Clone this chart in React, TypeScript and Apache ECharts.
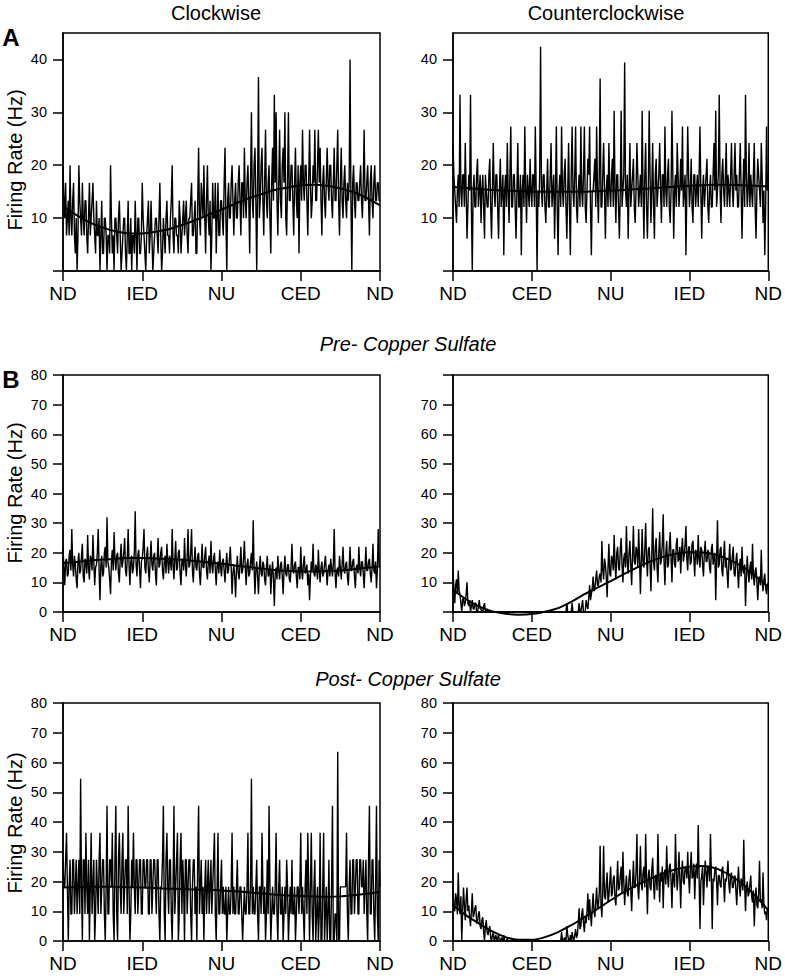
import React, { useEffect, useRef } from "react";
import * as echarts from "echarts";

// angular step between samples (degrees) and between fit samples
const STEP = 1;
const FIT_STEP = 15;

const cwLabels = ["ND", "IED", "NU", "CED", "ND"];
const ccwLabels = ["ND", "CED", "NU", "IED", "ND"];
const yTicksA = [0, 10, 20, 30, 40];
const yLabelsA = [10, 20, 30, 40];
const yTicksB = [0, 10, 20, 30, 40, 50, 60, 70, 80];
const yLabelsBRight = [10, 20, 30, 40, 50, 60, 70];

// Panel A, clockwise (one value per degree, 0..360)
const aCw = [
  20, 13.3, 10, 16.7, 6.7, 10, 13.3, 6.7, 20, 10, 6.7, 13.3, 16.7, 6.7, 3.3, 10, 0, 6.7, 20, 13.3,
  10, 6.7, 16.7, 10, 6.7, 13.3, 13.3, 6.7, 3.3, 10, 16.7, 6.7, 10, 13.3, 16.7, 10, 6.7, 3.3, 13.3, 6.7,
  6.7, 10, 0, 6.7, 13.3, 3.3, 3.3, 10, 10, 6.7, 0, 6.7, 6.7, 3.3, 20, 10, 3.3, 6.7, 0, 10,
  10, 6.7, 3.3, 10, 13.3, 6.7, 0, 3.3, 6.7, 10, 10, 3.3, 0, 6.7, 13.3, 3.3, 3.3, 10, 0, 6.7,
  6.7, 3.3, 13.3, 6.7, 0, 10, 10, 3.3, 3.3, 6.7, 16.7, 10, 6.7, 3.3, 0, 6.7, 10, 13.3, 3.3, 6.7,
  13.3, 6.7, 0, 3.3, 6.7, 10, 10, 6.7, 3.3, 10, 16.7, 6.7, 0, 3.3, 10, 6.7, 3.3, 10, 13.3, 6.7,
  6.7, 3.3, 10, 13.3, 20, 6.7, 3.3, 10, 10, 6.7, 6.7, 3.3, 13.3, 10, 3.3, 6.7, 10, 13.3, 6.7, 10,
  13.3, 6.7, 3.3, 10, 10, 13.3, 16.7, 6.7, 6.7, 10, 13.3, 3.3, 3.3, 13.3, 23.3, 10, 6.7, 16.7, 13.3, 10,
  20, 10, 3.3, 13.3, 20, 10, 6.7, 13.3, 0, 6.7, 16.7, 10, 10, 16.7, 3.3, 10, 16.7, 6.7, 6.7, 13.3,
  13.3, 10, 6.7, 16.7, 23.3, 10, 0, 13.3, 16.7, 10, 10, 16.7, 20, 13.3, 6.7, 13.3, 16.7, 10, 10, 16.7,
  20, 13.3, 6.7, 16.7, 16.7, 10, 23.3, 13.3, 10, 16.7, 20, 13.3, 3.3, 16.7, 30, 13.3, 10, 20, 23.3, 13.3,
  0, 16.7, 36.7, 10, 13.3, 20, 23.3, 13.3, 6.7, 16.7, 26.7, 13.3, 10, 16.7, 20, 10, 3.3, 16.7, 23.3, 13.3,
  33.3, 16.7, 30, 13.3, 6.7, 16.7, 26.7, 13.3, 10, 20, 23.3, 16.7, 30, 10, 6.7, 16.7, 30, 13.3, 13.3, 20,
  20, 13.3, 6.7, 16.7, 23.3, 13.3, 10, 20, 3.3, 16.7, 20, 13.3, 26.7, 16.7, 13.3, 20, 20, 13.3, 6.7, 16.7,
  26.7, 16.7, 10, 13.3, 20, 16.7, 26.7, 13.3, 13.3, 20, 26.7, 16.7, 23.3, 13.3, 6.7, 16.7, 20, 13.3, 10, 16.7,
  23.3, 16.7, 13.3, 20, 20, 13.3, 10, 16.7, 23.3, 13.3, 13.3, 20, 26.7, 13.3, 6.7, 16.7, 23.3, 13.3, 10, 16.7,
  20, 13.3, 10, 16.7, 13.3, 16.7, 40, 13.3, 0, 16.7, 20, 13.3, 10, 16.7, 16.7, 13.3, 13.3, 16.7, 20, 13.3,
  10, 16.7, 26.7, 13.3, 13.3, 16.7, 20, 13.3, 6.7, 16.7, 20, 13.3, 10, 16.7, 20, 13.3, 13.3, 16.7, 16.7, 13.3,
  13.3,
];
const aCwFit = [
  12.3, 10.6, 9.2, 8.2, 7.5, 7.1, 7.1, 7.4, 7.9, 8.7, 9.6, 10.6, 11.6,
  12.7, 13.7, 14.5, 15.3, 15.8, 16.2, 16.3, 16.1, 15.6, 14.9, 13.8, 12.4,
];

// Panel A, counterclockwise
const aCcw = [
  24.2, 18.2, 15.2, 12.1, 9.1, 15.2, 18.2, 12.1, 33.3, 15.2, 12.1, 18.2, 18.2, 12.1, 24.2, 15.2, 6.1, 12.1, 18.2, 15.2,
  33.3, 12.1, 0, 15.2, 18.2, 12.1, 12.1, 18.2, 21.2, 12.1, 15.2, 18.2, 9.1, 15.2, 18.2, 12.1, 6.1, 18.2, 15.2, 12.1,
  12.1, 18.2, 21.2, 12.1, 6.1, 15.2, 24.2, 15.2, 12.1, 18.2, 18.2, 12.1, 6.1, 15.2, 21.2, 12.1, 15.2, 18.2, 3, 15.2,
  18.2, 12.1, 24.2, 15.2, 9.1, 18.2, 27.3, 12.1, 12.1, 18.2, 18.2, 12.1, 6.1, 15.2, 24.2, 12.1, 12.1, 18.2, 3, 15.2,
  18.2, 12.1, 27.3, 15.2, 9.1, 18.2, 15.2, 12.1, 21.2, 15.2, 12.1, 18.2, 18.2, 12.1, 27.3, 15.2, 0, 15.2, 12.1, 18.2,
  42.4, 15.2, 12.1, 18.2, 18.2, 12.1, 9.1, 15.2, 21.2, 12.1, 12.1, 18.2, 24.2, 12.1, 15.2, 18.2, 6.1, 15.2, 27.3, 12.1,
  3, 15.2, 18.2, 12.1, 27.3, 15.2, 12.1, 18.2, 21.2, 12.1, 6.1, 15.2, 24.2, 12.1, 3, 18.2, 27.3, 15.2, 12.1, 18.2,
  27.3, 12.1, 9.1, 15.2, 18.2, 12.1, 27.3, 15.2, 12.1, 18.2, 27.3, 12.1, 9.1, 15.2, 21.2, 18.2, 27.3, 12.1, 3, 15.2,
  15.2, 18.2, 21.2, 12.1, 27.3, 15.2, 9.1, 18.2, 36.4, 12.1, 12.1, 18.2, 24.2, 15.2, 6.1, 15.2, 18.2, 12.1, 24.2, 15.2,
  12.1, 18.2, 21.2, 12.1, 30.3, 15.2, 9.1, 18.2, 18.2, 12.1, 6.1, 15.2, 30.3, 12.1, 15.2, 18.2, 39.4, 15.2, 12.1, 18.2,
  6.1, 15.2, 24.2, 12.1, 15.2, 18.2, 21.2, 12.1, 9.1, 15.2, 24.2, 18.2, 12.1, 15.2, 18.2, 12.1, 30.3, 15.2, 6.1, 18.2,
  24.2, 12.1, 6.1, 15.2, 30.3, 18.2, 9.1, 15.2, 24.2, 12.1, 6.1, 18.2, 21.2, 12.1, 15.2, 18.2, 24.2, 15.2, 9.1, 18.2,
  18.2, 12.1, 27.3, 15.2, 12.1, 18.2, 21.2, 12.1, 9.1, 15.2, 30.3, 18.2, 6.1, 15.2, 18.2, 12.1, 24.2, 18.2, 12.1, 15.2,
  21.2, 15.2, 27.3, 12.1, 15.2, 18.2, 3, 15.2, 27.3, 18.2, 12.1, 15.2, 21.2, 12.1, 9.1, 18.2, 18.2, 12.1, 15.2, 18.2,
  12.1, 18.2, 27.3, 15.2, 6.1, 15.2, 18.2, 12.1, 15.2, 18.2, 21.2, 12.1, 9.1, 15.2, 18.2, 12.1, 12.1, 18.2, 24.2, 15.2,
  30.3, 12.1, 15.2, 18.2, 33.3, 15.2, 9.1, 18.2, 21.2, 15.2, 12.1, 18.2, 24.2, 12.1, 18.2, 15.2, 12.1, 18.2, 24.2, 15.2,
  12.1, 18.2, 24.2, 15.2, 18.2, 12.1, 12.1, 18.2, 24.2, 15.2, 6.1, 15.2, 21.2, 12.1, 33.3, 18.2, 12.1, 15.2, 24.2, 12.1,
  18.2, 15.2, 12.1, 18.2, 24.2, 12.1, 6.1, 15.2, 21.2, 18.2, 15.2, 12.1, 24.2, 18.2, 9.1, 15.2, 3, 12.1, 27.3, 15.2,
  18.2,
];
const aCcwFit = [
  15.9, 15.7, 15.5, 15.3, 15.2, 15.1, 15.0, 15.0, 15.0, 15.0, 15.0, 15.1, 15.2,
  15.3, 15.5, 15.6, 15.8, 16.0, 16.1, 16.2, 16.3, 16.3, 16.2, 16.1, 16.0,
];

// Panel B, pre copper sulfate, clockwise
const preCw = [
  22, 15, 9, 17, 18, 12, 13, 19, 21, 14, 28, 16, 12, 19, 16, 11, 8, 17, 20, 13,
  14, 19, 23, 12, 10, 18, 17, 13, 26, 15, 11, 19, 18, 14, 26, 17, 9, 15, 16, 20,
  28, 14, 4, 16, 19, 12, 13, 20, 22, 15, 32, 17, 15, 11, 6, 17, 21, 14, 27, 18,
  14, 19, 20, 13, 10, 18, 23, 15, 17, 20, 25, 14, 12, 18, 28, 16, 9, 17, 19, 13,
  15, 20, 34, 16, 12, 19, 21, 14, 8, 17, 18, 22, 28, 15, 13, 19, 22, 14, 10, 18,
  24, 16, 14, 19, 20, 13, 9, 18, 25, 15, 16, 20, 22, 14, 11, 17, 19, 13, 23, 17,
  13, 19, 17, 14, 28, 16, 11, 18, 24, 14, 15, 20, 21, 13, 9, 17, 18, 14, 25, 16,
  12, 18, 28, 15, 16, 20, 28, 14, 10, 17, 22, 15, 14, 19, 20, 13, 9, 16, 23, 15,
  15, 19, 22, 14, 11, 17, 19, 13, 24, 16, 13, 18, 20, 14, 9, 16, 17, 13, 21, 15,
  12, 17, 18, 14, 10, 16, 20, 13, 14, 18, 22, 15, 6, 13, 16, 12, 5, 14, 19, 13,
  11, 16, 22, 13, 14, 18, 24, 15, 9, 16, 18, 12, 13, 17, 20, 14, 31, 15, 6, 14,
  17, 12, 6, 15, 19, 13, 12, 17, 16, 11, 9, 15, 19, 12, 13, 16, 6, 13, 17, 11,
  2, 13, 15, 11, 19, 14, 11, 16, 17, 12, 6, 14, 19, 13, 12, 16, 16, 11, 10, 15,
  23, 14, 13, 16, 17, 12, 8, 15, 15, 11, 22, 14, 11, 16, 19, 13, 14, 16, 9, 13,
  4, 12, 17, 14, 23, 13, 12, 16, 15, 11, 21, 14, 10, 15, 17, 12, 13, 16, 19, 14,
  9, 14, 16, 12, 18, 15, 12, 16, 28, 13, 8, 14, 15, 12, 19, 15, 11, 16, 22, 14,
  13, 16, 17, 12, 9, 15, 22, 14, 14, 17, 18, 12, 8, 15, 16, 13, 22, 15, 12, 17,
  17, 13, 8, 15, 22, 14, 14, 17, 18, 13, 10, 15, 23, 14, 13, 17, 8, 14, 28, 16,
  15,
];
const preCwFit = [
  16.5, 16.9, 17.3, 17.7, 18.0, 18.2, 18.2, 18.1, 17.9, 17.6, 17.2, 16.8, 16.3,
  15.7, 15.2, 14.7, 14.2, 13.9, 13.7, 13.7, 13.8, 14.0, 14.4, 14.9, 15.4,
];

// Panel B, pre copper sulfate, counterclockwise
const preCcw = [
  14, 8, 3, 9, 11, 6, 14, 7, 6, 3, 0, 4, 5, 2, 3, 6, 10, 3, 2, 4,
  0, 2, 4, 1, 1, 3, 3, 0, 0, 2, 4, 1, 1, 0, 0, 2, 3, 0, 0, 1,
  0, 0, 0, 0, 0, 0, 0, 0, 0, 0, 0, 0, 0, 0, 0, 0, 0, 0, 0, 0,
  0, 0, 0, 0, 0, 0, 0, 0, 0, 0, 0, 0, 0, 0, 0, 0, 0, 0, 0, 0,
  0, 0, 0, 0, 0, 0, 0, 0, 0, 0, 0, 0, 0, 0, 0, 0, 0, 0, 0, 0,
  0, 0, 0, 0, 0, 0, 0, 0, 0, 0, 0, 0, 0, 0, 0, 0, 0, 0, 0, 0,
  0, 0, 0, 0, 0, 0, 0, 0, 0, 0, 3, 0, 0, 0, 0, 0, 3, 0, 0, 0,
  0, 0, 0, 0, 3, 0, 0, 2, 4, 0, 0, 0, 4, 2, 1, 5, 9, 4, 6, 8,
  12, 7, 8, 11, 14, 9, 9, 12, 13, 10, 24, 14, 11, 18, 16, 12, 5, 15, 23, 13,
  12, 19, 18, 14, 26, 16, 11, 20, 22, 15, 14, 21, 25, 16, 10, 18, 20, 15, 29, 17,
  13, 20, 24, 16, 9, 19, 29, 17, 16, 22, 21, 15, 28, 18, 6, 17, 28, 16, 15, 21,
  30, 18, 12, 21, 22, 16, 7, 19, 35, 17, 14, 22, 25, 15, 10, 20, 27, 16, 18, 23,
  33, 17, 9, 20, 24, 15, 16, 22, 27, 18, 10, 21, 21, 16, 15, 23, 25, 17, 18, 22,
  13, 21, 25, 17, 19, 23, 29, 18, 14, 22, 22, 16, 17, 23, 24, 18, 12, 21, 20, 16,
  26, 18, 15, 22, 21, 16, 12, 20, 24, 17, 17, 21, 20, 15, 13, 21, 23, 16, 18, 20,
  4, 18, 31, 15, 16, 21, 22, 14, 12, 19, 24, 15, 18, 13, 8, 17, 23, 14, 15, 19,
  22, 13, 12, 17, 20, 14, 8, 15, 18, 12, 22, 14, 13, 16, 2, 12, 19, 13, 10, 15,
  17, 11, 23, 12, 9, 14, 15, 10, 4, 11, 12, 9, 21, 10, 7, 11, 13, 8, 6, 9,
  10,
];
const preCcwFit = [
  7.5, 4.3, 1.8, 0.2, -0.6, -0.9, -0.7, 0.1, 1.3, 3.4, 6.0, 8.2, 10.4,
  12.8, 15.0, 17.0, 18.6, 19.7, 20.2, 20.1, 19.3, 17.7, 15.4, 12.2, 8.4,
];

// Panel B, post copper sulfate, clockwise
const postCw = [
  27.3, 18.2, 18.2, 27.3, 36.4, 18.2, 0, 18.2, 27.3, 9.1, 9.1, 27.3, 27.3, 9.1, 18.2, 27.3, 9.1, 18.2, 27.3, 9.1,
  54.5, 18.2, 0, 27.3, 27.3, 9.1, 36.4, 18.2, 9.1, 27.3, 0, 18.2, 36.4, 9.1, 18.2, 27.3, 0, 9.1, 27.3, 18.2,
  9.1, 27.3, 36.4, 9.1, 18.2, 27.3, 27.3, 9.1, 0, 18.2, 45.5, 9.1, 9.1, 27.3, 27.3, 18.2, 36.4, 9.1, 0, 27.3,
  45.5, 9.1, 0, 27.3, 36.4, 18.2, 9.1, 27.3, 36.4, 9.1, 18.2, 27.3, 27.3, 9.1, 45.5, 18.2, 0, 9.1, 27.3, 18.2,
  36.4, 18.2, 9.1, 27.3, 27.3, 9.1, 18.2, 27.3, 27.3, 9.1, 9.1, 27.3, 27.3, 18.2, 18.2, 27.3, 27.3, 9.1, 9.1, 27.3,
  27.3, 9.1, 18.2, 27.3, 27.3, 18.2, 9.1, 27.3, 27.3, 9.1, 0, 18.2, 18.2, 27.3, 45.5, 9.1, 0, 27.3, 36.4, 18.2,
  9.1, 27.3, 27.3, 9.1, 0, 18.2, 45.5, 9.1, 18.2, 27.3, 36.4, 0, 9.1, 27.3, 36.4, 9.1, 27.3, 18.2, 0, 27.3,
  27.3, 9.1, 18.2, 27.3, 27.3, 9.1, 0, 18.2, 27.3, 27.3, 9.1, 18.2, 0, 27.3, 45.5, 9.1, 18.2, 27.3, 9.1, 18.2,
  0, 18.2, 27.3, 9.1, 18.2, 27.3, 9.1, 18.2, 27.3, 9.1, 18.2, 27.3, 36.4, 9.1, 0, 18.2, 36.4, 9.1, 9.1, 18.2,
  27.3, 9.1, 18.2, 9.1, 9.1, 18.2, 0, 9.1, 18.2, 9.1, 9.1, 18.2, 36.4, 9.1, 18.2, 9.1, 9.1, 18.2, 27.3, 9.1,
  9.1, 18.2, 18.2, 9.1, 0, 9.1, 18.2, 9.1, 9.1, 18.2, 36.4, 9.1, 9.1, 18.2, 54.5, 9.1, 18.2, 9.1, 9.1, 18.2,
  27.3, 9.1, 0, 18.2, 18.2, 9.1, 36.4, 18.2, 9.1, 18.2, 0, 9.1, 27.3, 9.1, 45.5, 18.2, 0, 9.1, 18.2, 9.1,
  9.1, 18.2, 36.4, 9.1, 0, 18.2, 27.3, 9.1, 9.1, 18.2, 0, 9.1, 18.2, 9.1, 27.3, 18.2, 0, 9.1, 18.2, 9.1,
  27.3, 9.1, 9.1, 18.2, 0, 9.1, 18.2, 18.2, 9.1, 18.2, 36.4, 9.1, 18.2, 9.1, 0, 18.2, 27.3, 9.1, 36.4, 18.2,
  0, 18.2, 36.4, 9.1, 0, 18.2, 27.3, 0, 9.1, 18.2, 0, 9.1, 36.4, 0, 0, 18.2, 36.4, 0, 9.1, 18.2,
  0, 9.1, 27.3, 0, 0, 18.2, 45.5, 0, 0, 9.1, 9.1, 0, 63.6, 0, 0, 18.2, 18.2, 18.2, 18.2, 18.2,
  18.2, 18.2, 36.4, 9.1, 0, 18.2, 27.3, 9.1, 9.1, 27.3, 27.3, 9.1, 18.2, 27.3, 27.3, 9.1, 9.1, 27.3, 27.3, 18.2,
  18.2, 27.3, 9.1, 18.2, 27.3, 9.1, 0, 27.3, 45.5, 9.1, 9.1, 27.3, 27.3, 9.1, 0, 18.2, 45.5, 9.1, 0, 27.3,
  18.2,
];
const postCwFit = [
  18.0, 18.1, 18.2, 18.2, 18.2, 18.1, 18.0, 17.8, 17.6, 17.5, 17.3, 17.2, 17.0,
  16.7, 16.4, 16.0, 15.6, 15.3, 15.1, 15.0, 14.9, 15.0, 15.4, 15.9, 16.5,
];

// Panel B, post copper sulfate, counterclockwise
const postCcw = [
  18, 11, 10, 16, 14, 9, 23, 12, 9, 15, 0, 10, 18, 12, 7, 14, 18, 10, 12, 8,
  5, 10, 16, 8, 9, 11, 12, 6, 6, 9, 10, 5, 4, 7, 8, 3, 0, 5, 7, 3,
  2, 4, 5, 1, 0, 2, 3, 0, 1, 2, 0, 1, 2, 0, 0, 1, 1, 0, 2, 0,
  0, 0, 1, 0, 0, 0, 0, 0, 0, 0, 0, 0, 0, 0, 0, 0, 0, 0, 0, 0,
  0, 0, 0, 0, 0, 0, 0, 0, 0, 0, 0, 0, 0, 0, 0, 0, 0, 0, 0, 0,
  0, 0, 0, 0, 0, 0, 0, 0, 0, 0, 0, 0, 0, 0, 0, 0, 0, 0, 0, 0,
  0, 0, 0, 0, 3, 0, 0, 1, 1, 0, 5, 2, 0, 0, 2, 0, 3, 1, 0, 2,
  4, 1, 2, 6, 11, 4, 5, 9, 11, 6, 3, 8, 6, 10, 16, 7, 14, 9, 5, 11,
  16, 10, 8, 13, 18, 11, 12, 16, 32, 12, 8, 17, 32, 15, 14, 19, 23, 13, 15, 20,
  25, 15, 16, 21, 22, 14, 12, 19, 27, 17, 18, 22, 25, 16, 30, 20, 12, 18, 22, 16,
  15, 21, 24, 17, 10, 19, 27, 18, 18, 23, 36, 18, 14, 21, 32, 19, 17, 23, 25, 18,
  36, 20, 9, 22, 24, 18, 17, 24, 28, 19, 14, 22, 22, 17, 36, 21, 13, 23, 20, 25,
  11, 22, 24, 19, 32, 21, 18, 25, 26, 20, 11, 23, 22, 18, 36, 24, 17, 22, 30, 21,
  11, 23, 27, 20, 19, 25, 25, 21, 30, 22, 16, 24, 30, 21, 22, 26, 14, 23, 26, 21,
  39, 22, 4, 20, 22, 25, 12, 21, 27, 23, 18, 25, 25, 20, 36, 22, 4, 21, 20, 24,
  25, 20, 12, 22, 22, 19, 18, 24, 25, 20, 13, 21, 20, 23, 27, 19, 16, 22, 23, 18,
  18, 21, 22, 17, 12, 20, 25, 18, 15, 21, 20, 17, 34, 19, 10, 18, 20, 15, 16, 19,
  22, 15, 13, 17, 5, 14, 18, 12, 11, 16, 27, 13, 14, 11, 23, 12, 9, 10, 7, 11,
  10,
];
const postCcwFit = [
  12.0, 8.6, 5.8, 3.2, 1.3, 0.4, 0.4, 1.3, 3.0, 5.3, 8.0, 10.8, 13.7,
  16.4, 18.8, 20.9, 22.7, 24.1, 25.0, 25.2, 24.4, 22.3, 19.3, 15.3, 10.3,
];

const FONT = "'Liberation Sans', Arial, Helvetica, sans-serif";

type Panel = {
  left: number;
  top: number;
  height: number;
  yMax: number;
  yTicks: number[];
  yLabels: number[];
  xLabels: string[];
  data: number[];
  fit: number[];
};

const W = 317;

const panels: Panel[] = [
  { left: 63, top: 33, height: 238, yMax: 45, yTicks: yTicksA, yLabels: yLabelsA, xLabels: cwLabels, data: aCw, fit: aCwFit },
  { left: 453, top: 33, height: 238, yMax: 45, yTicks: yTicksA, yLabels: yLabelsA, xLabels: ccwLabels, data: aCcw, fit: aCcwFit },
  { left: 63, top: 375, height: 237, yMax: 80, yTicks: yTicksB, yLabels: yTicksB, xLabels: cwLabels, data: preCw, fit: preCwFit },
  { left: 453, top: 375, height: 237, yMax: 80, yTicks: yTicksB, yLabels: yLabelsBRight, xLabels: ccwLabels, data: preCcw, fit: preCcwFit },
  { left: 63, top: 703, height: 238, yMax: 80, yTicks: yTicksB, yLabels: yTicksB, xLabels: cwLabels, data: postCw, fit: postCwFit },
  { left: 453, top: 703, height: 238, yMax: 80, yTicks: yTicksB, yLabels: yTicksB, xLabels: ccwLabels, data: postCcw, fit: postCcwFit },
];

export default function App() {
  const ref = useRef<HTMLDivElement>(null);
  useEffect(() => {
    document.body.style.margin = "0";
    if (!ref.current) return;
    const chart = echarts.init(ref.current, null, { renderer: "svg" });
    const grid: any[] = [];
    const xAxis: any[] = [];
    const yAxis: any[] = [];
    const series: any[] = [];
    panels.forEach((p, i) => {
      grid.push({
        left: p.left,
        top: p.top,
        width: W,
        height: p.height,
        show: true,
        borderColor: "#000",
        borderWidth: 1.5,
        backgroundColor: "transparent",
      });
      const labels = p.xLabels;
      xAxis.push({
        gridIndex: i,
        type: "value",
        min: 0,
        max: 360,
        interval: 90,
        splitLine: { show: false },
        axisLine: { show: true, onZero: false, lineStyle: { color: "#000", width: 1.5 } },
        axisTick: { show: true, length: 10, lineStyle: { color: "#000", width: 1.5 } },
        axisLabel: {
          show: true,
          margin: 13,
          color: "#000",
          fontFamily: FONT,
          fontSize: 19,
          formatter: (v: number) => labels[Math.round(v / 90)] ?? "",
        },
      });
      yAxis.push({
        gridIndex: i,
        type: "value",
        min: 0,
        max: p.yMax,
        interval: 10,
        splitLine: { show: false },
        axisLine: { show: true, lineStyle: { color: "#000", width: 1.5 } },
        axisTick: {
          show: true,
          length: 10,
          customValues: p.yTicks,
          lineStyle: { color: "#000", width: 1.5 },
        },
        axisLabel: {
          show: true,
          margin: 16,
          color: "#000",
          fontFamily: FONT,
          fontSize: 14.5,
          customValues: p.yLabels,
        },
      });
      series.push({
        type: "line",
        xAxisIndex: i,
        yAxisIndex: i,
        data: p.data.map((v, k) => [k * STEP, v]),
        showSymbol: false,
        symbol: "none",
        lineStyle: { color: "#000", width: 1.4 },
        z: 2,
        silent: true,
      });
      series.push({
        type: "line",
        xAxisIndex: i,
        yAxisIndex: i,
        data: p.fit.map((v, k) => [k * FIT_STEP, v]),
        showSymbol: false,
        symbol: "none",
        smooth: 0.3,
        clip: false,
        lineStyle: { color: "#000", width: 2 },
        z: 3,
        silent: true,
      });
    });

    const text = (t: string, x: number, y: number, size: number, extra: any = {}) => ({
      type: "text",
      x,
      y,
      ...extra.el,
      style: {
        text: t,
        fill: "#000",
        font: `${extra.style || ""} ${size}px ${FONT}`,
        textAlign: "center",
        textVerticalAlign: "middle",
      },
    });

    chart.setOption({
      animation: false,
      backgroundColor: "#fff",
      grid,
      xAxis,
      yAxis,
      series,
      graphic: [
        text("Clockwise", 216, 13, 20),
        text("Counterclockwise", 606, 13, 20),
        text("A", 11, 37, 24, { style: "bold" }),
        text("B", 11, 379, 24, { style: "bold" }),
        text("Pre- Copper Sulfate", 408, 344, 20, { style: "italic" }),
        text("Post- Copper Sulfate", 408, 679, 20, { style: "italic" }),
        text("Firing Rate (Hz)", 15, 160, 20, { el: { rotation: Math.PI / 2 } }),
        text("Firing Rate (Hz)", 15, 493, 20, { el: { rotation: Math.PI / 2 } }),
        text("Firing Rate (Hz)", 15, 823, 20, { el: { rotation: Math.PI / 2 } }),
      ],
    });
    return () => chart.dispose();
  }, []);
  return <div ref={ref} style={{ width: 785, height: 976 }} />;
}
